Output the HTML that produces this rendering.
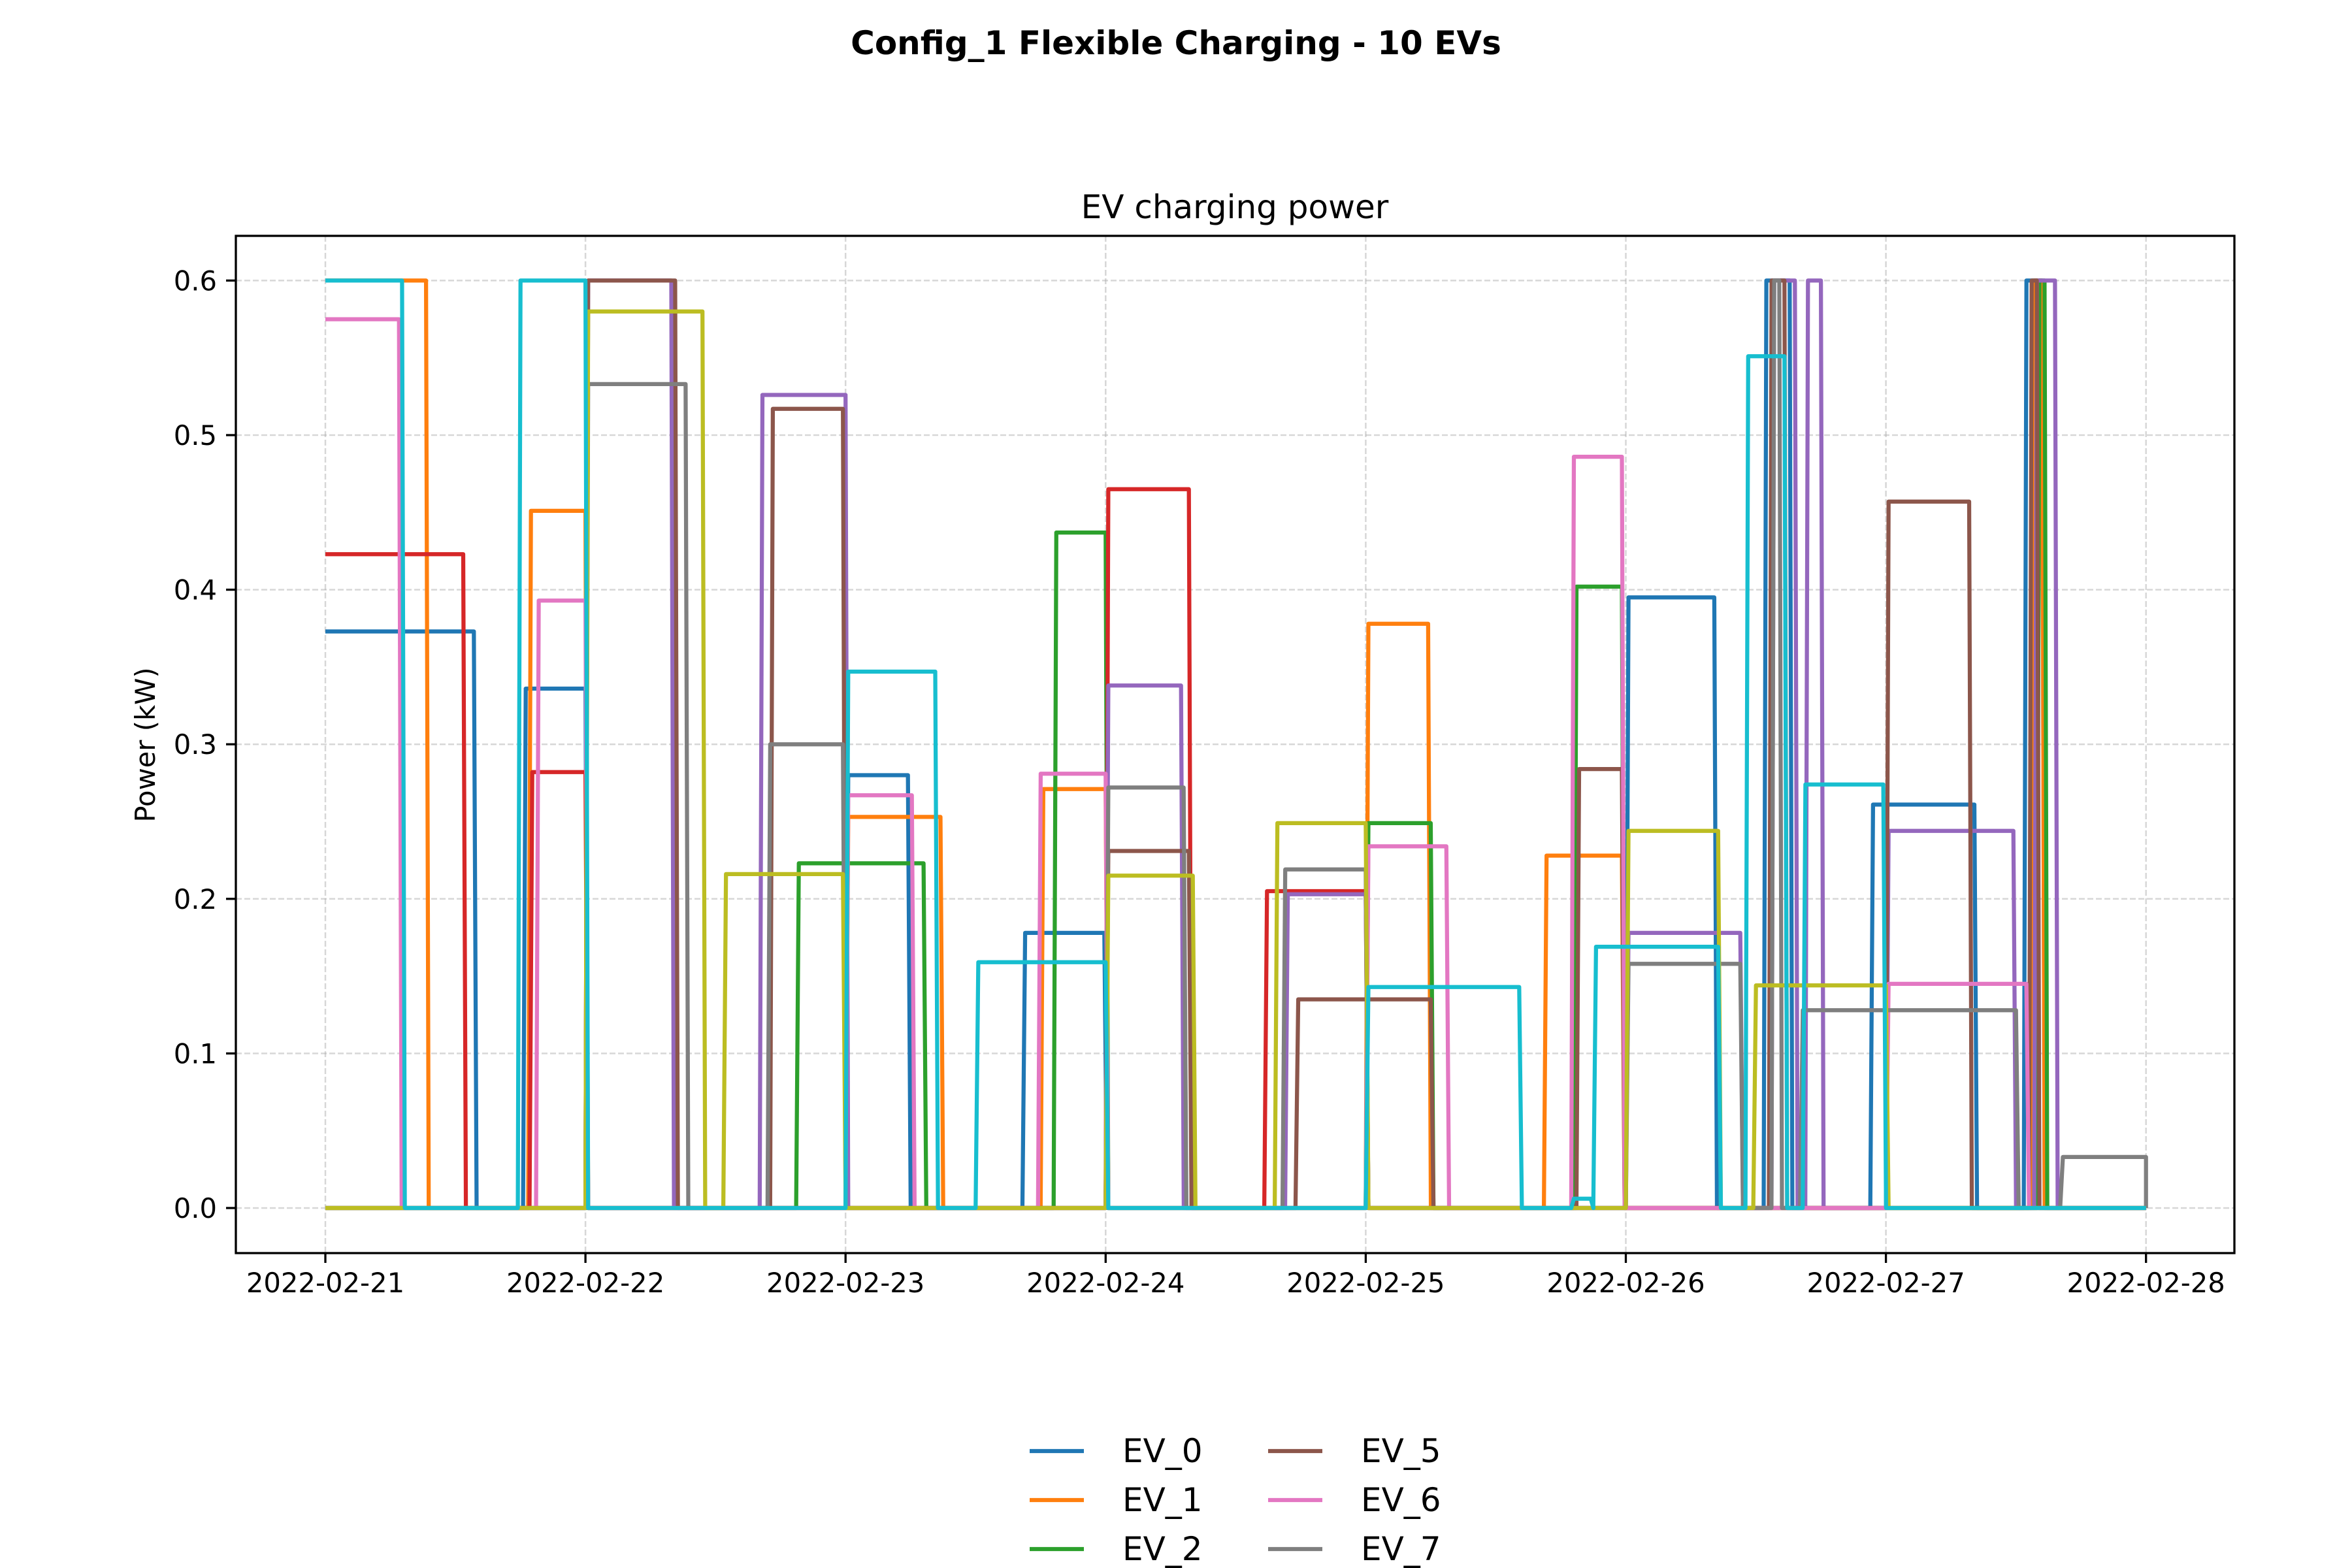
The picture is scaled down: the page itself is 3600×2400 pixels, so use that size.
<!DOCTYPE html>
<html><head><meta charset="utf-8">
<style>
html,body{margin:0;padding:0;background:#fff;overflow:hidden;}
svg{display:block;font-family:"DejaVu Sans","Liberation Sans",sans-serif;}
</style></head>
<body>
<svg id="chart" width="3600" height="2400" viewBox="0 0 3600 2400" xmlns="http://www.w3.org/2000/svg">
<rect width="3600" height="2400" fill="#fff"/>
<text x="1800" y="83" text-anchor="middle" font-size="50" font-weight="bold">Config_1 Flexible Charging - 10 EVs</text>
<text x="1890" y="334" text-anchor="middle" font-size="50">EV charging power</text>
<text transform="translate(237,1140) rotate(-90)" text-anchor="middle" font-size="41.7">Power (kW)</text>
<g id="grid"></g>
<g id="series"></g>
<rect x="361" y="361" width="3059" height="1557" fill="none" stroke="#000" stroke-width="3.3"/>
<g id="ticks"></g>
<g id="legend"></g>
</svg>
<script>
const xTickLabels = ["2022-02-21","2022-02-22","2022-02-23","2022-02-24","2022-02-25","2022-02-26","2022-02-27","2022-02-28"];
const yTickValues = [0.0,0.1,0.2,0.3,0.4,0.5,0.6];
const seriesNames = ["EV_0","EV_1","EV_2","EV_3","EV_4","EV_5","EV_6","EV_7","EV_8","EV_9"];
const seriesColors = ["#1f77b4","#ff7f0e","#2ca02c","#d62728","#9467bd","#8c564b","#e377c2","#7f7f7f","#bcbd22","#17becf"];
// segments: [startDay, endDay, kW]
const ev0 = [[0,0.571,0.373],[0.76,1.0,0.336],[2.0,2.24,0.28],[2.68,2.995,0.178],[5.0,5.34,0.395],[5.53,5.63,0.6],[5.94,6.34,0.261],[6.53,6.6,0.6]];
const ev1 = [[0,0.387,0.6],[0.78,1.0,0.451],[2.0,2.365,0.253],[2.75,3.0,0.271],[4.0,4.24,0.378],[4.685,4.985,0.228],[6.56,6.6,0.6]];
const ev2 = [[1.81,2.3,0.223],[2.8,3.0,0.437],[4.0,4.25,0.249],[4.8,4.985,0.402],[6.58,6.61,0.6]];
const ev3 = [[0,0.53,0.423],[0.785,1.0,0.282],[3.0,3.32,0.465],[3.61,4.0,0.205]];
const ev4 = [[1.0,1.33,0.6],[1.67,2.0,0.526],[3.0,3.29,0.338],[3.69,4.0,0.203],[5.0,5.44,0.178],[5.56,5.65,0.6],[5.69,5.75,0.6],[6.0,6.49,0.244],[6.57,6.65,0.6]];
const ev5 = [[1.0,1.345,0.6],[1.71,1.99,0.517],[3.0,3.32,0.231],[3.73,4.25,0.135],[4.81,4.985,0.284],[5.55,5.61,0.6],[6.0,6.32,0.457],[6.55,6.58,0.6]];
const ev6 = [[0,0.283,0.575],[0.81,1.0,0.393],[2.0,2.255,0.267],[2.74,3.0,0.281],[4.0,4.31,0.234],[4.79,4.985,0.486],[6.0,6.54,0.145]];
const ev7 = [[1.0,1.385,0.533],[1.7,1.99,0.3],[3.0,3.3,0.272],[3.68,4.0,0.219],[5.0,5.44,0.158],[5.56,5.59,0.6],[5.67,6.5,0.128],[6.67,7.0,0.033]];
const ev8 = [[1.0,1.45,0.58],[1.53,1.99,0.216],[3.0,3.335,0.215],[3.65,4.0,0.249],[5.0,5.355,0.244],[5.49,6.0,0.144]];
const ev9 = [[0,0.295,0.6],[0.74,1.0,0.6],[2.0,2.345,0.347],[2.5,3.0,0.159],[4.0,4.59,0.143],[4.79,4.865,0.006],[4.875,5.355,0.169],[5.46,5.61,0.551],[5.68,5.99,0.274]];
const allSeries = [ev0,ev1,ev2,ev3,ev4,ev5,ev6,ev7,ev8,ev9];

const NS="http://www.w3.org/2000/svg";
const X0=498, DX=398.1, Y0=1849, DY=2366;
const PL=361, PR=3420, PT=361, PB=1918;
const xs=d=>X0+d*DX, ys=v=>Y0-v*DY;
function mk(tag,attrs,parent){const e=document.createElementNS(NS,tag);for(const k in attrs)e.setAttribute(k,attrs[k]);parent.appendChild(e);return e;}
const grid=document.getElementById('grid'),ticks=document.getElementById('ticks'),sg=document.getElementById('series'),lg=document.getElementById('legend');
xTickLabels.forEach((t,i)=>{
  const x=xs(i);
  const gl=mk('line',{x1:x,x2:x,y1:PT,y2:PB,stroke:'#b0b0b0','stroke-opacity':0.5,'stroke-width':2.5,'stroke-dasharray':'9,4'},grid);
  
  
  const tk=mk('line',{x1:x,x2:x,y1:PB,y2:PB+15,stroke:'#000','stroke-width':3.3},ticks);
  
  
  const tl=mk('text',{x:x,y:PB+60,'text-anchor':'middle','font-size':41.7},ticks);
  tl.textContent=t;
  
  
});
yTickValues.forEach(v=>{
  const y=ys(v);
  const gl=mk('line',{x1:PL,x2:PR,y1:y,y2:y,stroke:'#b0b0b0','stroke-opacity':0.5,'stroke-width':2.5,'stroke-dasharray':'9,4'},grid);
  
  
  const tk=mk('line',{x1:PL-15,x2:PL,y1:y,y2:y,stroke:'#000','stroke-width':3.3},ticks);
  
  
  const tl=mk('text',{x:PL-29,y:y+15,'text-anchor':'end','font-size':41.7},ticks);
  tl.textContent=v.toFixed(1);
  
  
});
const R=1/96;
allSeries.forEach((segs,i)=>{
  const pts=[];
  if(!(segs.length&&segs[0][0]===0)) pts.push([0,0]);
  segs.forEach(([s,e,v])=>{
    if(s===0) pts.push([0,v]); else {pts.push([s,0]);pts.push([s+R,v]);}
    pts.push([e,v]); pts.push([Math.min(e+R,7),0]);
  });
  pts.push([7,0]);
  const p=mk('polyline',{points:pts.map(q=>xs(q[0]).toFixed(1)+','+ys(q[1]).toFixed(1)).join(' '),fill:'none',stroke:seriesColors[i],'stroke-width':6.25,'stroke-linejoin':'round'},sg);
  
  
});
seriesNames.forEach((n,i)=>{
  const col=Math.floor(i/5),row=i%5;
  const lx=1576+col*365, y=2221+row*75;
  const g=mk('g',{},lg);
  
  
  mk('line',{x1:lx,x2:lx+83,y1:y,y2:y,stroke:seriesColors[i],'stroke-width':6.25},g);
  const t=mk('text',{x:lx+142,y:y+17,'font-size':50},g);
  t.textContent=n;
});
</script>
</body></html>
